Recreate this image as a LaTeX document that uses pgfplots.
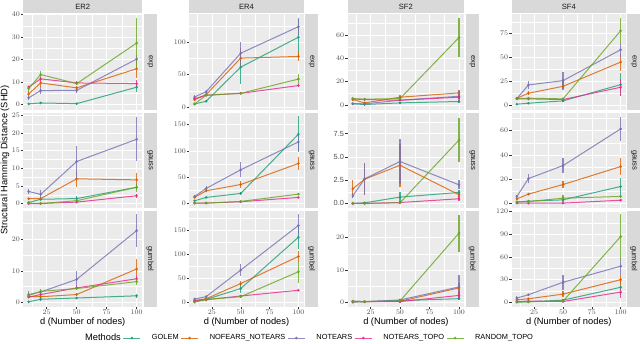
\documentclass[border=0pt]{standalone}
\usepackage{fontspec}
\setmainfont{Liberation Sans}
\usepackage{pgfplots}
\pgfplotsset{compat=1.18}

\definecolor{cGOLEM}{HTML}{1B9E77}
\definecolor{cNN}{HTML}{D95F02}
\definecolor{cNT}{HTML}{7570B3}
\definecolor{cTOPO}{HTML}{E7298A}
\definecolor{cRAND}{HTML}{66A61E}
\definecolor{panelbg}{HTML}{EBEBEB}
\definecolor{stripbg}{HTML}{D9D9D9}
\definecolor{ticktext}{HTML}{4D4D4D}
\definecolor{tickcol}{HTML}{333333}

\pgfplotsset{
  panel/.style={
    scale only axis, height=95.5pt, anchor=north west,
    xmin=5.5, xmax=104.5,
    xtick={25,50,75,100},
    minor xtick={12.5,37.5,62.5,87.5},
    axis background/.style={fill=panelbg},
    axis line style={draw=none},
    grid=both,
    major grid style={white, line width=0.6pt},
    minor grid style={white, line width=0.3pt},
    tick align=outside, tick pos=left,
    major tick length=2.3pt, minor tick length=0pt,
    tick style={tickcol, line width=0.45pt},
    ticklabel style={font=\fontsize{7.4}{8}\selectfont, text=ticktext, inner sep=1pt},
  },
  top/.style={xticklabels={}, major x tick style={draw=none}},
  bot/.style={xlabel={d (Number of nodes)},
    xlabel style={at={(axis description cs:0.5,0)}, anchor=base, yshift=-18pt,
      inner sep=0pt, font=\fontsize{9.3}{10}\selectfont}},
  ser/.style={#1, line width=1pt, opacity=0.8, mark=*, mark size=0.8pt, forget plot,
    error bars/.cd, y dir=both, y explicit, error mark=none,
    error bar style={line width=1.2pt, #1, opacity=0.8}},
  key/.style={#1, line width=1pt, opacity=0.8, mark=*, mark size=0.8pt},
}
\newcommand{\series}[2]{\addplot[ser=#1] coordinates {#2};}

\begin{document}
\begin{tikzpicture}

% ---------- row 1 : exp ----------
\begin{axis}[panel, top, name=p11, at={(23.3pt,-14pt)}, width=118.8pt,
  ymin=-2.2, ymax=40.2, ytick={0,10,20,30,40}, minor ytick={5,15,25,35}]
\series{cGOLEM}{(10,0.3)+-(0,0.3) (20,0.7)+-(0,0.4) (50,0.4)+-(0,0.3) (100,7.7)+-(0,2.0)}
\series{cNN}{(10,4.7)+-(0,1.1) (20,9.6)+-(0,1.6) (50,7.4)+-(0,0.8) (100,15.9)+-(0,4.1)}
\series{cNT}{(10,3.0)+-(0,1.0) (20,6.2)+-(0,1.7) (50,6.3)+-(0,1.1) (100,20.2)+-(0,2.0)}
\series{cTOPO}{(10,7.8)+-(0,0.6) (20,11.4)+-(0,1.0) (50,9.6)+-(0,0.8) (100,9.3)+-(0,1.4)}
\series{cRAND}{(10,7.1)+-(0,0.9) (20,13.3)+-(0,1.8) (50,9.3)+-(0,0.8) (100,27.3)+-(0,11.1)}
\end{axis}

\begin{axis}[panel, top, name=p12, at={(189.4pt,-14pt)}, width=114.2pt,
  ymin=-4, ymax=143.6, ytick={0,50,100}, minor ytick={25,75,125}]
\series{cGOLEM}{(10,4.6)+-(0,1) (20,8.7)+-(0,1.5) (50,61.5)+-(0,25.6) (100,107.7)+-(0,28.3)}
\series{cNN}{(10,11)+-(0,2.5) (20,19)+-(0,2) (50,75.4)+-(0,15) (100,78)+-(0,7.8)}
\series{cNT}{(10,15.4)+-(0,2.5) (20,23.5)+-(0,2.5) (50,83)+-(0,18) (100,124)+-(0,13)}
\series{cTOPO}{(10,12.8)+-(0,1) (20,18)+-(0,1) (50,21)+-(0,1.2) (100,33)+-(0,2)}
\series{cRAND}{(10,4.6)+-(0,1) (20,18)+-(0,1.5) (50,21)+-(0,1.5) (100,43)+-(0,8)}
\end{axis}

\begin{axis}[panel, top, name=p13, at={(347.5pt,-14pt)}, width=116.8pt,
  ymin=-4, ymax=78.3, ytick={0,20,40,60}, minor ytick={10,30,50,70}]
\series{cGOLEM}{(10,0.9)+-(0,0.5) (20,0.3)+-(0,0.3) (50,1.7)+-(0,0.5) (100,2.9)+-(0,0.8)}
\series{cNN}{(10,4.6)+-(0,1.5) (20,1.7)+-(0,0.8) (50,6.6)+-(0,1.5) (100,10.3)+-(0,2)}
\series{cNT}{(10,1.1)+-(0,0.8) (20,0.9)+-(0,0.6) (50,4)+-(0,1) (100,7.4)+-(0,5.7)}
\series{cTOPO}{(10,5.1)+-(0,1) (20,4.6)+-(0,1) (50,4)+-(0,1) (100,6.6)+-(0,1.5)}
\series{cRAND}{(10,5.4)+-(0,1.2) (20,4.9)+-(0,1) (50,5.4)+-(0,1.2) (100,58)+-(0,16.8)}
\end{axis}

\begin{axis}[panel, top, name=p14, at={(511.7pt,-14pt)}, width=114.2pt,
  ymin=-4.9, ymax=95.6, ytick={0,25,50,75}, minor ytick={12.5,37.5,62.5,87.5}]
\series{cGOLEM}{(10,0.7)+-(0,0.5) (20,1.7)+-(0,0.7) (50,4.2)+-(0,1) (100,21.3)+-(0,12.2)}
\series{cNN}{(10,7)+-(0,1.5) (20,12.2)+-(0,2) (50,19.5)+-(0,4.2) (100,45)+-(0,9)}
\series{cNT}{(10,6.6)+-(0,1.5) (20,20.9)+-(0,4) (50,25.5)+-(0,8.6) (100,58)+-(0,7.5)}
\series{cTOPO}{(10,6.3)+-(0,1) (20,6.3)+-(0,1) (50,5.6)+-(0,1) (100,18.5)+-(0,8.7)}
\series{cRAND}{(10,6.6)+-(0,1) (20,7)+-(0,1) (50,6.3)+-(0,1) (100,78)+-(0,13)}
\end{axis}

% ---------- row 2 : gauss ----------
\begin{axis}[panel, top, name=p21, at={(23.3pt,-112.6pt)}, width=118.8pt,
  ymin=-1.3, ymax=25.75, ytick={0,5,10,15,20,25}, minor ytick={2.5,7.5,12.5,17.5,22.5}]
\series{cGOLEM}{(10,0.3)+-(0,0.2) (20,1.2)+-(0,0.5) (50,1.4)+-(0,0.6) (100,4.6)+-(0,0.8)}
\series{cNN}{(10,1.4)+-(0,0.3) (20,1.4)+-(0,0.3) (50,7.0)+-(0,2.2) (100,6.7)+-(0,2)}
\series{cNT}{(10,3.4)+-(0,0.7) (20,2.6)+-(0,1.1) (50,11.9)+-(0,4.3) (100,18.2)+-(0,6.3)}
\series{cTOPO}{(10,0)+-(0,0.1) (20,0)+-(0,0.1) (50,0.4)+-(0,0.2) (100,2.2)+-(0,0.5)}
\series{cRAND}{(10,0.1)+-(0,0.1) (20,0)+-(0,0.1) (50,0.8)+-(0,0.3) (100,4.6)+-(0,1.2)}
\end{axis}

\begin{axis}[panel, top, name=p22, at={(189.4pt,-112.6pt)}, width=114.2pt,
  ymin=-8.9, ymax=172.8, ytick={0,50,100,150}, minor ytick={25,75,125}]
\series{cGOLEM}{(10,5)+-(0,1.5) (20,11.4)+-(0,2) (50,19)+-(0,3.5) (100,131.6)+-(0,34.7)}
\series{cNN}{(10,11.4)+-(0,2) (20,24)+-(0,3) (50,36)+-(0,7) (100,76)+-(0,13)}
\series{cNT}{(10,13.3)+-(0,3) (20,28.5)+-(0,5.4) (50,64)+-(0,14) (100,117)+-(0,16.5)}
\series{cTOPO}{(10,0.6)+-(0,0.5) (20,0.6)+-(0,0.5) (50,3.2)+-(0,1) (100,11.4)+-(0,1.5)}
\series{cRAND}{(10,0.6)+-(0,0.5) (20,0.6)+-(0,0.5) (50,3.8)+-(0,1) (100,17.7)+-(0,2)}
\end{axis}

\begin{axis}[panel, top, name=p23, at={(347.5pt,-112.6pt)}, width=116.8pt,
  ymin=-0.5, ymax=9.75, ytick={0,2.5,5,7.5}, minor ytick={1.25,3.75,6.25,8.75},
  yticklabels={0.0,2.5,5.0,7.5}]
\series{cGOLEM}{(10,0)+-(0,0.05) (20,0.07)+-(0,0.1) (50,0.68)+-(0,0.55) (100,1.18)+-(0,0.3)}
\series{cNN}{(10,1.57)+-(0,0.97) (20,2.6)+-(0,1.7) (50,4.1)+-(0,2.3) (100,0.93)+-(0,0.25)}
\series{cNT}{(10,0.82)+-(0,0.25) (20,2.64)+-(0,1.7) (50,4.5)+-(0,2.4) (100,2.0)+-(0,0.5)}
\series{cTOPO}{(10,0)+-(0,0.05) (20,0)+-(0,0.05) (50,0.1)+-(0,0.1) (100,0.5)+-(0,0.25)}
\series{cRAND}{(10,0)+-(0,0.05) (20,0)+-(0,0.05) (50,0.07)+-(0,0.1) (100,6.8)+-(0,2.4)}
\end{axis}

\begin{axis}[panel, top, name=p24, at={(511.7pt,-112.6pt)}, width=114.2pt,
  ymin=-3.8, ymax=74.8, ytick={0,20,40,60}, minor ytick={10,30,50,70}]
\series{cGOLEM}{(10,1.1)+-(0,0.5) (20,1.9)+-(0,1) (50,3)+-(0,1) (100,14)+-(0,6.8)}
\series{cNN}{(10,3.8)+-(0,0.8) (20,7.7)+-(0,1) (50,15.6)+-(0,3) (100,30.4)+-(0,6.8)}
\series{cNT}{(10,5.8)+-(0,1.5) (20,20.5)+-(0,3.8) (50,31.2)+-(0,6.4) (100,61.4)+-(0,9.8)}
\series{cTOPO}{(10,0.3)+-(0,0.3) (20,0.3)+-(0,0.3) (50,0.3)+-(0,0.3) (100,2.7)+-(0,1)}
\series{cRAND}{(10,1.4)+-(0,0.5) (20,1.6)+-(0,0.5) (50,4.4)+-(0,2.8) (100,5.8)+-(0,1.2)}
\end{axis}

% ---------- row 3 : gumbel ----------
\begin{axis}[panel, bot, name=p31, at={(23.3pt,-211pt)}, width=118.8pt,
  ymin=-1.3, ymax=29, ytick={0,10,20}, minor ytick={5,15,25},
  legend columns=6,
  legend style={at={(rel axis cs:0.427,-0.33)}, anchor=west, draw=none, fill=none,
    font=\fontsize{7.4}{8}\selectfont, inner sep=0pt,
    /tikz/every odd column/.append style={column sep=9pt}}]
\series{cGOLEM}{(10,0.2)+-(0,0.2) (20,1.0)+-(0,0.4) (50,1.4)+-(0,0.4) (100,2.1)+-(0,0.6)}
\series{cNN}{(10,1.8)+-(0,0.4) (20,1.8)+-(0,0.4) (50,2.5)+-(0,0.6) (100,10.6)+-(0,3.2)}
\series{cNT}{(10,2.5)+-(0,1.2) (20,3.3)+-(0,0.7) (50,7.3)+-(0,2.7) (100,22.8)+-(0,5.1)}
\series{cTOPO}{(10,1.7)+-(0,0.4) (20,2.5)+-(0,0.5) (50,4.6)+-(0,0.6) (100,7.5)+-(0,0.9)}
\series{cRAND}{(10,2.2)+-(0,0.5) (20,3.5)+-(0,0.8) (50,4.4)+-(0,0.6) (100,6.6)+-(0,1.0)}
\addlegendimage{empty legend}
\addlegendentry{\fontsize{9.3}{10}\selectfont Methods}
\addlegendimage{key=cGOLEM}
\addlegendentry{GOLEM}
\addlegendimage{key=cNN}
\addlegendentry{NOFEARS\_NOTEARS}
\addlegendimage{key=cNT}
\addlegendentry{NOTEARS}
\addlegendimage{key=cTOPO}
\addlegendentry{NOTEARS\_TOPO}
\addlegendimage{key=cRAND}
\addlegendentry{RANDOM\_TOPO}
\end{axis}

\begin{axis}[panel, bot, name=p32, at={(189.4pt,-211pt)}, width=114.2pt,
  ymin=-8.5, ymax=190.8, ytick={0,50,100,150}, minor ytick={25,75,125,175}]
\series{cGOLEM}{(10,2.1)+-(0,1) (20,6.3)+-(0,1.5) (50,29)+-(0,8.5) (100,136)+-(0,25)}
\series{cNN}{(10,4.2)+-(0,1.5) (20,7.7)+-(0,1.5) (50,39.4)+-(0,5) (100,96)+-(0,11.5)}
\series{cNT}{(10,7)+-(0,2) (20,12)+-(0,3) (50,67.6)+-(0,12.3) (100,160.6)+-(0,24.5)}
\series{cTOPO}{(10,2.8)+-(0,0.5) (20,5.6)+-(0,0.5) (50,13.4)+-(0,1) (100,25.4)+-(0,1.5)}
\series{cRAND}{(10,0.7)+-(0,0.5) (20,6.3)+-(0,1) (50,12)+-(0,1.5) (100,64)+-(0,22.8)}
\end{axis}

\begin{axis}[panel, bot, name=p33, at={(347.5pt,-211pt)}, width=116.8pt,
  ymin=-1.2, ymax=28.1, ytick={0,10,20}, minor ytick={5,15,25}]
\series{cGOLEM}{(10,0.1)+-(0,0.1) (20,0.3)+-(0,0.1) (50,0.6)+-(0,0.2) (100,1.2)+-(0,0.3)}
\series{cNN}{(10,0.4)+-(0,0.2) (20,0.3)+-(0,0.2) (50,0.4)+-(0,0.2) (100,4.5)+-(0,1.5)}
\series{cNT}{(10,0.4)+-(0,0.2) (20,0.3)+-(0,0.2) (50,0.8)+-(0,0.3) (100,4.8)+-(0,3.6)}
\series{cTOPO}{(10,0.3)+-(0,0.1) (20,0.3)+-(0,0.1) (50,0.3)+-(0,0.1) (100,2.2)+-(0,1.0)}
\series{cRAND}{(10,0.4)+-(0,0.2) (20,0.3)+-(0,0.1) (50,0.5)+-(0,0.3) (100,21.3)+-(0,5.7)}
\end{axis}

\begin{axis}[panel, bot, name=p34, at={(511.7pt,-211pt)}, width=114.2pt,
  ymin=-5.3, ymax=120.5, ytick={0,30,60,90,120}, minor ytick={15,45,75,105}]
\series{cGOLEM}{(10,0.4)+-(0,0.3) (20,0.9)+-(0,0.5) (50,3.1)+-(0,1) (100,20)+-(0,10)}
\series{cNN}{(10,3.5)+-(0,1) (20,4.9)+-(0,1) (50,11)+-(0,4.4) (100,30)+-(0,6.7)}
\series{cNT}{(10,5.8)+-(0,2.2) (20,10.2)+-(0,1.5) (50,26.6)+-(0,10) (100,47.8)+-(0,11)}
\series{cTOPO}{(10,1.3)+-(0,0.5) (20,1.8)+-(0,0.5) (50,1.3)+-(0,0.5) (100,13.7)+-(0,7.2)}
\series{cRAND}{(10,0.9)+-(0,0.5) (20,0.9)+-(0,0.5) (50,1.8)+-(0,0.8) (100,86.8)+-(0,29.5)}
\end{axis}

% ---------- strips ----------
\foreach \p/\lab in {p11/ER2, p12/ER4, p13/SF2, p14/SF4} {
  \fill[stripbg] ([yshift=1pt]\p.north west) rectangle ([yshift=14pt]\p.north east);
  \node[font=\fontsize{7.6}{8}\selectfont, text=black!90, inner sep=0pt] at ([yshift=7.5pt]\p.north) {\lab};
}
\foreach \p/\lab in {p11/exp, p12/exp, p13/exp, p14/exp,
                     p21/gauss, p22/gauss, p23/gauss, p24/gauss,
                     p31/gumbel, p32/gumbel, p33/gumbel, p34/gumbel} {
  \fill[stripbg] ([xshift=1.5pt]\p.north east) rectangle ([xshift=14.5pt]\p.south east);
  \node[font=\fontsize{7.6}{8}\selectfont, text=black!90, inner sep=0pt, rotate=-90] at ([xshift=8pt]\p.east) {\lab};
}

\node[rotate=90, inner sep=0pt, font=\fontsize{9.3}{10}\selectfont] at (5pt,-160pt) {Structural Hamming Distance (SHD)};

\pgfresetboundingbox
\path[use as bounding box] (0,0) rectangle (640pt,-343pt);
\end{tikzpicture}
\end{document}
